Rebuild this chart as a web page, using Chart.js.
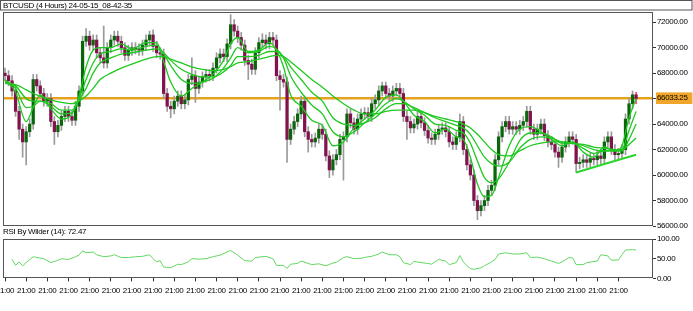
<!DOCTYPE html>
<html>
<head>
<meta charset="utf-8">
<script src="https://cdn.jsdelivr.net/npm/chart.js@4.4.1/dist/chart.umd.min.js"></script>
<style>
  html, body { margin: 0; padding: 0; background: #fff; }
  #wrap { position: relative; width: 693px; height: 311px; overflow: hidden; }
  #price { position: absolute; left: 0; top: 0; }
  #rsi { position: absolute; left: 0; top: 226px; }
</style>
</head>
<body>
<div id="wrap">
  <canvas id="price" width="693" height="232"></canvas>
  <canvas id="rsi" width="693" height="85"></canvas>
</div>
<script>
// BTCUSD 4h candles (one bar per 4 hours)
const opens = [
  68000, 67800, 67400, 66600, 65000, 63600, 62600, 63400, 64000, 67500,
  67000, 66400, 65800, 66000, 64200, 63400, 63900, 64600, 65000, 64600,
  64300, 65400, 66600, 70500, 70900, 70200, 70600, 69600, 69200, 68800,
  70000, 70600, 70900, 70500, 70000, 69400, 69800, 70000, 69900, 69800,
  70200, 70600, 71000, 70100, 69600, 69500, 66400, 65400, 65200, 65800,
  66200, 65600, 65900, 67500, 67800, 66800, 67300, 67700, 67900, 67800,
  68400, 69200, 69500, 69300, 70300, 71800, 71300, 70800, 70200, 69000,
  68700, 68300, 69600, 70400, 70600, 70300, 70800, 70600, 67800, 67500,
  67300, 62800, 63600, 64200, 64800, 65800, 63400, 62800, 62600, 62900,
  63600, 63200, 61500, 60400, 61200, 61600, 62800, 63000, 64800, 64100,
  63600, 64400, 64800, 64900, 64600, 65600, 65900, 66600, 67000, 66400,
  66200, 66600, 66800, 66400, 64600, 64200, 63700, 64000, 64600, 64100,
  63500, 62900, 62800, 63200, 63600, 63700, 63400, 62600, 62400, 63000,
  64200, 62000, 60800, 60000, 58000, 57200, 57600, 58000, 58800, 59200,
  61200, 63000, 63800, 64200, 63600, 63800, 63600, 63900, 64200, 65000,
  63600, 63200, 63600, 64000, 63100, 62600, 62400, 61800, 61400, 62200,
  62600, 63000, 62800, 60900, 61000, 61200, 61000, 61300, 61200, 61500,
  61300, 62600, 63000, 62000, 61600, 61700, 62000, 64400, 65600, 66300,
];
const highs = [
  68400, 68200, 67800, 67000, 65400, 64000, 63800, 64400, 67900, 67900,
  67400, 66800, 66400, 66400, 64600, 64300, 65000, 65400, 65400, 65000,
  65800, 67000, 70900, 71500, 71300, 71000, 71000, 70000, 71700, 70400,
  71000, 71300, 71300, 70900, 70400, 70200, 70400, 70400, 70300, 70600,
  71000, 71300, 71400, 70500, 70000, 69900, 66800, 65800, 66200, 66600,
  66600, 66300, 67900, 69200, 68200, 67700, 68100, 68300, 68300, 68800,
  69600, 69900, 69900, 70700, 72600, 72200, 71700, 71200, 70600, 69400,
  69100, 70000, 70800, 71100, 71000, 71200, 71200, 71000, 68200, 67900,
  67700, 64000, 64600, 65200, 66200, 66200, 63800, 63200, 63300, 64000,
  64000, 63600, 61900, 61600, 62000, 63200, 63400, 65200, 65200, 64500,
  64800, 65200, 65300, 65300, 66000, 66300, 67000, 67300, 67300, 66800,
  67000, 67200, 67200, 66800, 65000, 64600, 64400, 65000, 65000, 64500,
  63900, 63300, 63600, 64000, 64100, 64100, 63800, 63000, 63400, 64800,
  64600, 62400, 61200, 60400, 58400, 58000, 58400, 59200, 59600, 61600,
  63400, 64200, 64600, 64600, 64200, 64200, 64300, 64600, 65400, 65400,
  64000, 64000, 64400, 64400, 63500, 63000, 62800, 62200, 62600, 63000,
  63400, 63400, 63200, 61400, 61600, 61600, 61700, 61700, 61900, 61900,
  63000, 63400, 63400, 62400, 62100, 62400, 64800, 66000, 66600, 66500,
];
const lows = [
  67400, 67000, 66200, 64600, 62800, 61400, 60800, 63000, 63600, 66600,
  66000, 65400, 65400, 63800, 62400, 63000, 63500, 64200, 64200, 63900,
  63900, 65000, 66200, 70100, 69800, 69800, 69200, 68800, 68400, 68400,
  69600, 70200, 70100, 69600, 69000, 69000, 69400, 69500, 69400, 69400,
  69800, 70200, 69700, 69200, 69100, 66000, 65000, 64500, 64800, 65400,
  65200, 65200, 65500, 67100, 65700, 66400, 66900, 67300, 67400, 67400,
  68000, 68800, 68900, 68900, 69900, 70900, 70400, 69800, 68600, 67500,
  67900, 67900, 69200, 70000, 69900, 69900, 70200, 67400, 65100, 66900,
  61000, 62400, 63200, 63800, 64400, 63000, 61800, 62200, 62200, 62500,
  62800, 61100, 59800, 60000, 60800, 61200, 59600, 62600, 63700, 63200,
  63200, 64000, 64400, 64200, 64200, 65200, 65500, 66200, 66000, 65800,
  65800, 66200, 66000, 64200, 62800, 63300, 63300, 63600, 63700, 63100,
  62500, 62400, 62400, 62800, 63200, 63000, 62200, 62000, 62000, 62600,
  61600, 60400, 59600, 57600, 56500, 56800, 57200, 57600, 58400, 58800,
  60800, 62600, 63400, 63200, 63200, 63200, 63200, 63500, 63800, 63200,
  62800, 62800, 63200, 62700, 62200, 62000, 61400, 60600, 61000, 61800,
  62200, 62400, 60200, 60500, 60600, 60600, 60600, 60800, 60800, 60900,
  60900, 62200, 61600, 61200, 61200, 61300, 61600, 64000, 65200, 65600,
];
const closes = [
  67800, 67400, 66600, 65000, 63600, 62600, 63400, 64000, 67500, 67000,
  66400, 65800, 66000, 64200, 63400, 63900, 64600, 65000, 64600, 64300,
  65400, 66600, 70500, 70900, 70200, 70600, 69600, 69200, 68800, 70000,
  70600, 70900, 70500, 70000, 69400, 69800, 70000, 69900, 69800, 70200,
  70600, 71000, 70100, 69600, 69500, 66400, 65400, 65200, 65800, 66200,
  65600, 65900, 67500, 67800, 66800, 67300, 67700, 67900, 67800, 68400,
  69200, 69500, 69300, 70300, 71800, 71300, 70800, 70200, 69000, 68700,
  68300, 69600, 70400, 70600, 70300, 70800, 70600, 67800, 67500, 67300,
  62800, 63600, 64200, 64800, 65800, 63400, 62800, 62600, 62900, 63600,
  63200, 61500, 60400, 61200, 61600, 62800, 63000, 64800, 64100, 63600,
  64400, 64800, 64900, 64600, 65600, 65900, 66600, 67000, 66400, 66200,
  66600, 66800, 66400, 64600, 64200, 63700, 64000, 64600, 64100, 63500,
  62900, 62800, 63200, 63600, 63700, 63400, 62600, 62400, 63000, 64200,
  62000, 60800, 60000, 58000, 57200, 57600, 58000, 58800, 59200, 61200,
  63000, 63800, 64200, 63600, 63800, 63600, 63900, 64200, 65000, 63600,
  63200, 63600, 64000, 63100, 62600, 62400, 61800, 61400, 62200, 62600,
  63000, 62800, 60900, 61000, 61200, 61000, 61300, 61200, 61500, 61300,
  62600, 63000, 62000, 61600, 61700, 62000, 64400, 65600, 66300, 66000,
];

// moving averages, sampled at these bars
const maBars = [
  0, 3, 6, 8, 10, 13, 16, 19, 21, 23, 25, 27, 30, 33, 36, 40, 43,
  45, 47, 50, 53, 56, 59, 62, 64, 66, 69, 72, 75, 77, 79, 81, 84,
  87, 90, 93, 96, 99, 102, 105, 108, 111, 113, 116, 119, 122, 125, 128,
  130, 132, 134, 136, 138, 140, 143, 146, 149, 152, 155, 158, 161, 164,
  167, 170, 173, 175, 177, 179,
];
const maFast = [
  67500, 66500, 64200, 65300, 66300, 65200, 64400, 64800, 66200, 68500, 69800, 70000, 70000, 70300, 69900, 70400, 70400,
  68900, 67300, 66200, 66800, 67300, 67900, 69000, 70300, 70800, 69700, 69800, 70400, 69800, 68500, 66300, 65400,
  64300, 63900, 62300, 62600, 63700, 64400, 65100, 66100, 66300, 65800, 64700, 64200, 63300, 63600, 63000,
  62800, 61400, 59300, 58300, 58400, 59800, 62300, 63600, 63800, 63400, 62800, 62300, 62600, 61800,
  61400, 62200, 61900, 62300, 64500, 66000,
];
const maMid = [
  67400, 66800, 65300, 65400, 65800, 65400, 64800, 64900, 66000, 67500, 68800, 69500, 69700, 69900, 69800, 70100, 70200,
  69500, 68600, 67500, 67200, 67300, 67600, 68400, 69200, 70000, 69600, 69700, 70100, 69900, 69200, 67800, 66500,
  65500, 64800, 63400, 63000, 63400, 64100, 64800, 65600, 66000, 65800, 65200, 64700, 64000, 63900, 63500,
  63300, 62500, 61100, 59800, 59400, 59700, 61000, 62700, 63300, 63300, 63000, 62500, 62500, 62100,
  61700, 61900, 61900, 62000, 63500, 65000,
];
const maSlow = [
  67300, 67000, 66000, 65800, 65800, 65600, 65100, 65100, 65900, 66800, 68000, 68800, 69200, 69500, 69600, 69800, 69900,
  69600, 69000, 68300, 67900, 67700, 67700, 68100, 68600, 69300, 69300, 69400, 69700, 69700, 69300, 68500, 67500,
  66500, 65800, 64500, 64000, 63900, 64100, 64500, 65200, 65600, 65600, 65300, 64900, 64500, 64200, 63900,
  63700, 63200, 62300, 61400, 60900, 60700, 61000, 62100, 62800, 63000, 62900, 62600, 62500, 62300,
  62000, 61900, 61900, 61900, 62800, 64000,
];
const maLong = [
  67200, 67100, 66700, 66400, 66200, 65900, 65700, 65600, 65800, 66200, 66800, 67500, 68000, 68400, 68700, 69100, 69300,
  69300, 69100, 68800, 68500, 68300, 68200, 68300, 68500, 68800, 68900, 69100, 69300, 69400, 69300, 68900, 68200,
  67500, 66900, 66200, 65600, 65100, 64800, 64800, 65000, 65100, 65100, 65100, 64900, 64600, 64400, 64200,
  64000, 63700, 63200, 62600, 62000, 61600, 61500, 61900, 62300, 62500, 62600, 62600, 62500, 62400,
  62200, 62100, 62000, 62000, 62400, 62900,
];

// hand-drawn support line and the current-price line
const trendBars = [162, 179];
const trendValues = [60200, 61600];
const lastPrice = 66033.25;

// RSI (Wilder, 14)
const rsiBars = [
  2, 3, 4, 5, 6, 8, 9, 11, 13, 15, 16, 18, 20, 21, 22, 23, 25, 26, 28, 30,
  31, 33, 35, 37, 39, 41, 42, 43, 44, 45, 47, 49, 50, 52, 53, 55, 57, 59, 61, 63,
  64, 66, 68, 70, 71, 72, 74, 76, 77, 79, 80, 81, 83, 84, 87, 89, 91, 93, 94, 96,
  97, 99, 101, 103, 104, 106, 107, 109, 111, 112, 113, 115, 116, 118, 120, 121, 123, 125, 126, 128,
  129, 130, 131, 132, 133, 135, 136, 138, 139, 140, 142, 144, 146, 148, 149, 151, 153, 155, 157, 158,
  160, 161, 162, 164, 165, 168, 169, 171, 172, 174, 175, 176, 178, 179,
];
const rsiValues = [
  48, 33, 42, 32, 40, 55, 53, 50, 40, 46, 50, 48, 55, 59, 70, 65, 67, 60, 55, 57,
  60, 53, 53, 55, 56, 60, 50, 42, 45, 29, 27, 36, 35, 42, 50, 49, 50, 55, 59, 67,
  71, 59, 45, 44, 53, 54, 56, 50, 33, 33, 25, 36, 38, 44, 35, 37, 32, 39, 41, 53,
  55, 50, 51, 55, 56, 62, 67, 60, 60, 55, 40, 35, 43, 40, 38, 36, 48, 44, 35, 40,
  58, 42, 32, 25, 23, 27, 32, 42, 48, 62, 65, 62, 62, 65, 53, 54, 50, 44, 38, 42,
  53, 52, 35, 35, 40, 44, 60, 57, 46, 47, 60, 72, 73, 72,
];

const priceTicks = [72000, 70000, 68000, lastPrice, 64000, 62000, 60000, 58000, 56000];
const rsiTicks = [0, 30, 50, 70, 100];
const rsiLevels = [30, 70];
const dayBars = [
  0, 6, 12, 18, 24, 30, 36, 42, 48, 54, 60, 66, 72, 78, 84,
  90, 96, 102, 108, 114, 120, 126, 132, 138, 144, 150, 156, 162, 168, 174,
];
const dayLabel = '21:00';

const BULL = '#0b650b';
const BEAR = '#80124c';
const WICK = '#9a9a9a';
const MA = '#1ec81e';
const GOLD = '#e6a21c';
const FRAME = '#555';
const X_MIN = -0.57, X_MAX = 183.8;

Chart.defaults.font.family = "'Liberation Sans', Arial, sans-serif";
Chart.defaults.font.size = 8;
Chart.defaults.color = '#000';

const pts = (xs, ys) => xs.map((x, k) => ({ x, y: ys[k] }));
const bars = closes.map((_, i) => i);

// the terminal's font runs a little narrower than Arial
const tighten = {
  id: 'tighten',
  beforeDraw(chart) { chart.ctx.letterSpacing = '-0.3px'; },
  beforeDatasetsDraw(chart) { chart.ctx.letterSpacing = '-0.35px'; },
};

// plot frame + header box, MT4 style
const frame = {
  id: 'frame',
  afterDraw(chart, args, opts) {
    const { ctx, chartArea: a } = chart;
    ctx.save();
    ctx.strokeStyle = FRAME;
    ctx.lineWidth = 1;
    ctx.strokeRect(Math.round(a.left) + 0.5, Math.round(a.top) + 0.5,
      Math.round(a.right - a.left) - 1, Math.round(a.bottom - a.top) - 1);
    if (opts.header) ctx.strokeRect(0.5, 0.5, chart.width - 1.5, 9.5);
    ctx.restore();
  },
};

const line = (data, color, width, order) => ({
  type: 'line', data, borderColor: color, borderWidth: width, pointRadius: 0,
  cubicInterpolationMode: 'monotone', order,
});

new Chart(document.getElementById('price'), {
  type: 'bar',
  data: {
    datasets: [
      line(pts(trendBars, trendValues), '#2ad62a', 2, 0),
      line(pts(maBars, maFast), MA, 1.3, 1),
      line(pts(maBars, maMid), MA, 1.3, 1),
      line(pts(maBars, maSlow), MA, 1.3, 1),
      line(pts(maBars, maLong), MA, 1.3, 1),
      {
        label: 'body', data: bars.map((i) => ({ x: i, y: [opens[i], closes[i]] })),
        backgroundColor: (c) => (closes[c.dataIndex] >= opens[c.dataIndex] ? BULL : BEAR),
        barThickness: 2.6, minBarLength: 1, grouped: false, order: 3,
      },
      {
        label: 'wick', data: bars.map((i) => ({ x: i, y: [lows[i], highs[i]] })),
        backgroundColor: (c) => (c.dataIndex === bars.length - 1 ? '#ff3d7f' : WICK),
        barThickness: 1, grouped: false, order: 4,
      },
      line([{ x: X_MIN, y: lastPrice }, { x: X_MAX, y: lastPrice }], GOLD, 2.5, 5),
    ],
  },
  options: {
    responsive: false, animation: false, events: [],
    layout: { padding: { left: 3, right: 0, top: 0, bottom: 6 } },
    plugins: {
      legend: { display: false }, tooltip: { enabled: false },
      title: {
        display: true, text: 'BTCUSD (4 Hours) 24-05-15_08-42-35', align: 'start',
        font: { size: 8, weight: 'normal' }, padding: { top: 0.5, bottom: 1.9 },
      },
      frame: { header: true },
    },
    scales: {
      x: { type: 'linear', min: X_MIN, max: X_MAX, offset: false, display: false },
      y: {
        position: 'right', min: 56000, max: 72800,
        afterBuildTicks: (s) => { s.ticks = priceTicks.map((v) => ({ value: v })); },
        afterFit: (s) => { s.width = 40; },
        grid: { drawOnChartArea: false, tickLength: 3, tickColor: '#333' },
        border: { display: false },
        ticks: {
          z: 1,
          padding: 1,
          callback: (v) => v.toFixed(2),
          showLabelBackdrop: true,
          backdropColor: (c) => (c.tick && c.tick.value === lastPrice ? '#f0a62a' : 'rgba(0,0,0,0)'),
          backdropPadding: { left: 1, right: 2, top: 1, bottom: 1 },
        },
      },
    },
  },
  plugins: [tighten, frame],
});

new Chart(document.getElementById('rsi'), {
  type: 'line',
  data: {
    datasets: [{
      data: pts(rsiBars, rsiValues), borderColor: '#62d862', borderWidth: 1,
      pointRadius: 0, tension: 0,
    }],
  },
  options: {
    responsive: false, animation: false, events: [],
    layout: { padding: { left: 3, right: 0, top: 0, bottom: 10 } },
    plugins: {
      legend: { display: false }, tooltip: { enabled: false },
      title: {
        display: true, text: 'RSI By Wilder (14): 72.47', align: 'start',
        font: { size: 8, weight: 'normal' }, padding: { top: 1, bottom: 2.4 },
      },
      frame: { header: false },
    },
    scales: {
      x: {
        type: 'linear', min: X_MIN, max: X_MAX, offset: false,
        afterBuildTicks: (s) => { s.ticks = dayBars.map((v) => ({ value: v })); },
        afterFit: (s) => { s.paddingLeft = 0; s.paddingRight = 0; },
        grid: { drawOnChartArea: false, tickLength: 3, tickColor: '#333' },
        border: { display: false },
        ticks: { z: 1, autoSkip: false, maxRotation: 0, padding: 5, callback: () => dayLabel },
      },
      y: {
        position: 'right', min: 0, max: 100,
        afterBuildTicks: (s) => { s.ticks = rsiTicks.map((v) => ({ value: v })); },
        afterFit: (s) => { s.width = 40; },
        grid: {
          color: (c) => (rsiLevels.includes(c.tick.value) ? '#c4c4c4' : 'rgba(0,0,0,0)'),
          tickColor: (c) => (rsiLevels.includes(c.tick.value) ? 'rgba(0,0,0,0)' : '#333'),
          tickLength: 3,
        },
        border: { display: false },
        ticks: { z: 1, padding: 1, callback: (v) => (rsiLevels.includes(v) ? '' : v.toFixed(2)) },
      },
    },
  },
  plugins: [tighten, frame],
});
</script>
</body>
</html>
